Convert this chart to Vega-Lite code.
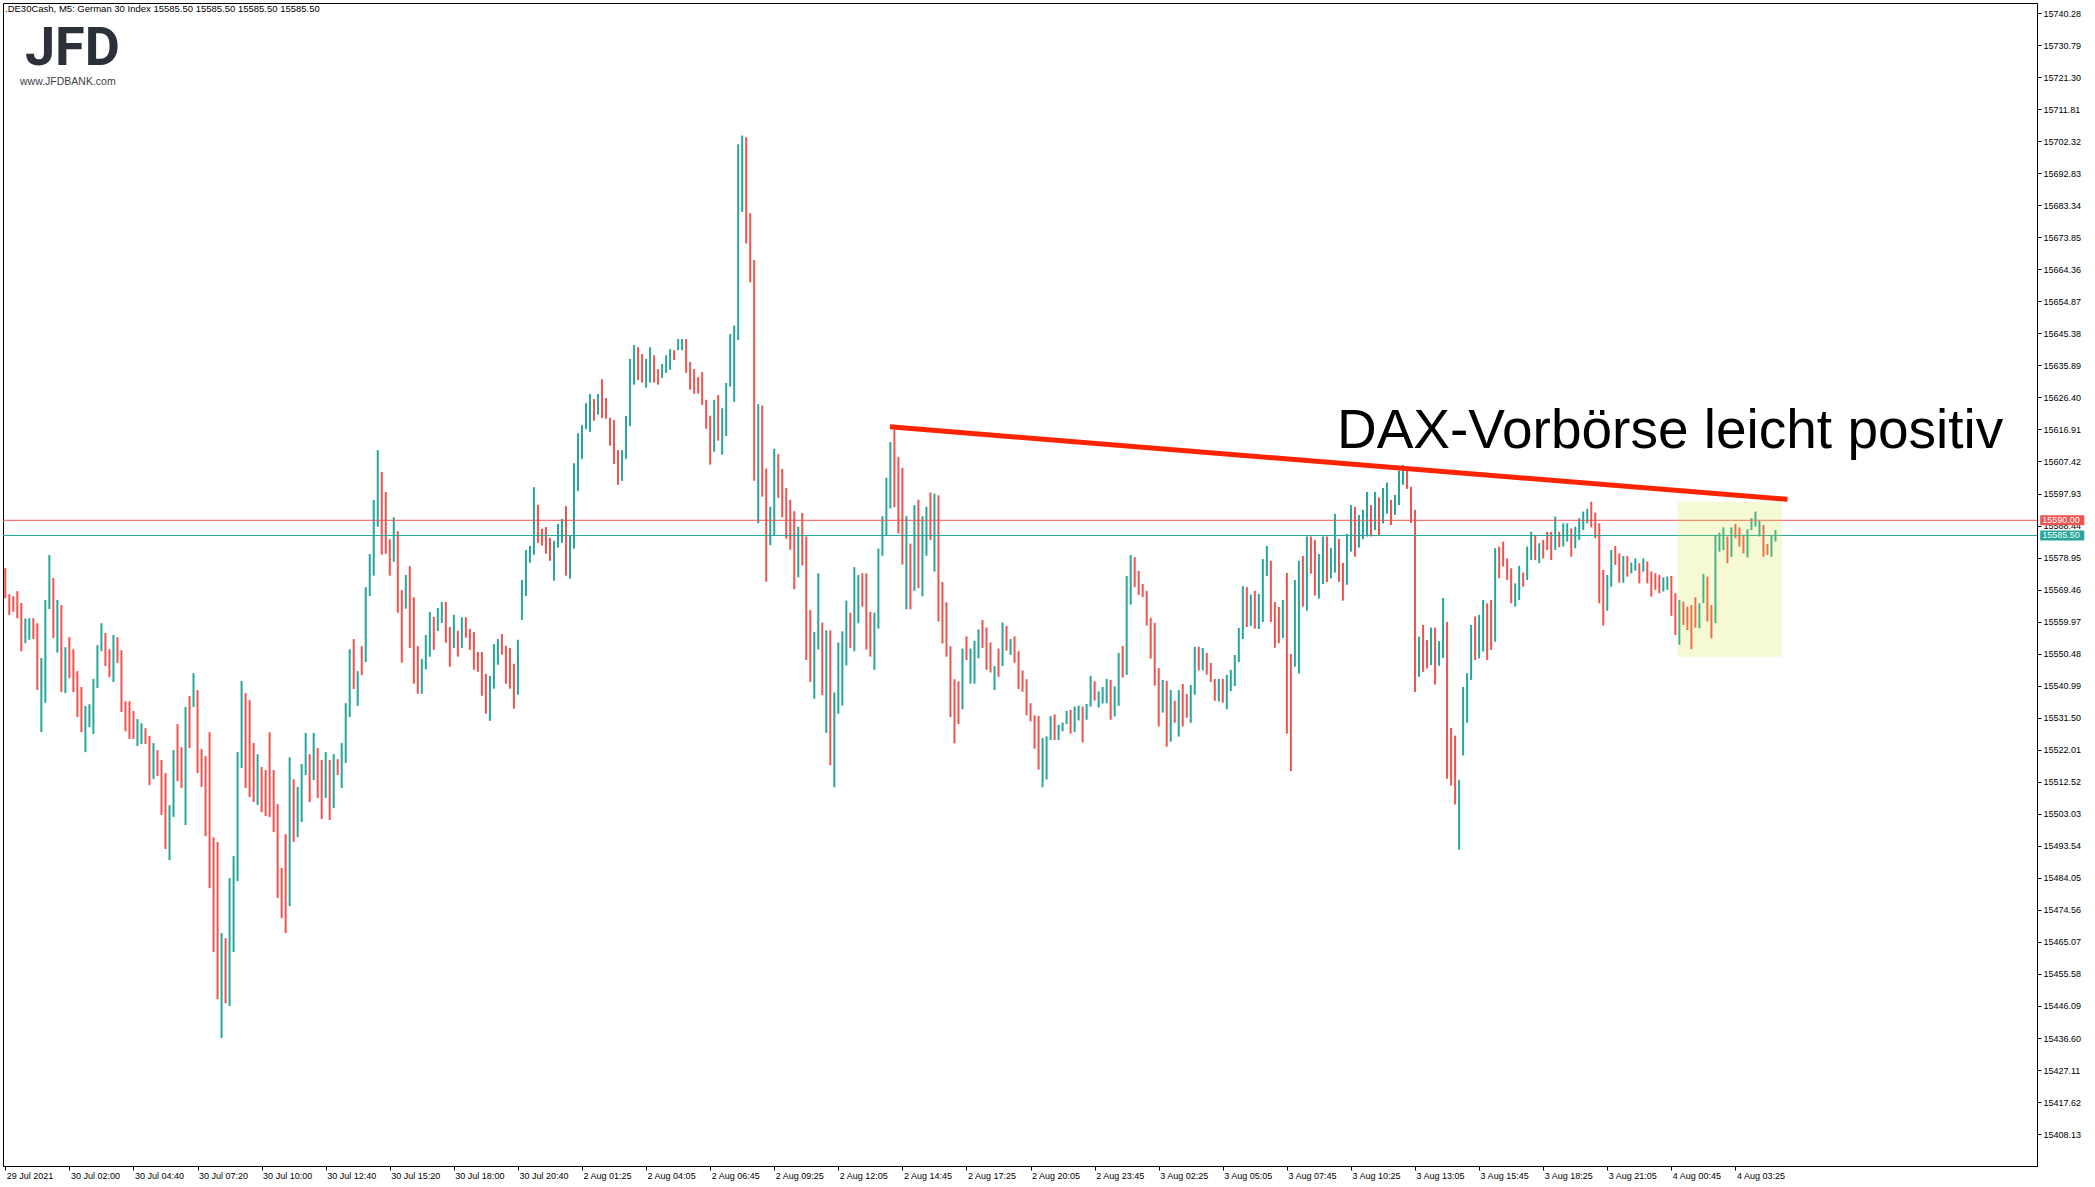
{
"$schema":"https://vega.github.io/schema/vega-lite/v6.json",
"autosize":"none","width":2034,"height":1163,
"padding":{"left":3,"top":3,"right":58,"bottom":21},
"background":"white",
"config":{"view":{"stroke":"black","strokeWidth":1},"font":"Liberation Sans",
"axis":{"labelFont":"Liberation Sans","labelFontSize":9,"labelColor":"black","tickColor":"black","domainColor":"black","grid":false,"tickWidth":1,"domainWidth":1,"labelOverlap":false}},
"datasets":{"bars":[
{"t":0,"h":15575.8,"l":15566.9,"d":"d"},{"t":1,"h":15568.1,"l":15561.9,"d":"d"},{"t":2,"h":15567.5,"l":15562.9,"d":"d"},{"t":3,"h":15569.0,"l":15561.0,"d":"d"},{"t":4,"h":15565.5,"l":15551.2,"d":"d"},{"t":5,"h":15560.9,"l":15553.6,"d":"u"},{"t":6,"h":15561.0,"l":15554.6,"d":"u"},{"t":7,"h":15561.0,"l":15554.8,"d":"d"},{"t":8,"h":15559.5,"l":15539.7,"d":"d"},{"t":9,"h":15549.2,"l":15527.3,"d":"u"},
{"t":10,"h":15566.4,"l":15535.9,"d":"u"},{"t":11,"h":15579.7,"l":15563.7,"d":"u"},{"t":12,"h":15572.9,"l":15555.1,"d":"d"},{"t":13,"h":15566.4,"l":15550.8,"d":"u"},{"t":14,"h":15564.9,"l":15539.1,"d":"d"},{"t":15,"h":15552.4,"l":15538.8,"d":"u"},{"t":16,"h":15555.4,"l":15543.2,"d":"d"},{"t":17,"h":15551.8,"l":15539.1,"d":"d"},{"t":18,"h":15545.3,"l":15531.7,"d":"d"},{"t":19,"h":15540.6,"l":15527.2,"d":"d"},
{"t":20,"h":15535.0,"l":15521.3,"d":"u"},{"t":21,"h":15535.5,"l":15528.7,"d":"u"},{"t":22,"h":15543.0,"l":15526.7,"d":"u"},{"t":23,"h":15553.0,"l":15540.3,"d":"u"},{"t":24,"h":15559.5,"l":15551.2,"d":"u"},{"t":25,"h":15556.6,"l":15546.8,"d":"d"},{"t":26,"h":15551.8,"l":15543.5,"d":"d"},{"t":27,"h":15556.0,"l":15542.1,"d":"u"},{"t":28,"h":15555.4,"l":15547.7,"d":"d"},{"t":29,"h":15551.5,"l":15533.2,"d":"d"},
{"t":30,"h":15536.4,"l":15527.5,"d":"d"},{"t":31,"h":15536.4,"l":15525.2,"d":"d"},{"t":32,"h":15533.5,"l":15525.2,"d":"d"},{"t":33,"h":15531.1,"l":15523.1,"d":"u"},{"t":34,"h":15529.9,"l":15523.7,"d":"u"},{"t":35,"h":15528.4,"l":15523.7,"d":"d"},{"t":36,"h":15526.1,"l":15511.5,"d":"d"},{"t":37,"h":15524.0,"l":15513.3,"d":"u"},{"t":38,"h":15521.9,"l":15514.2,"d":"d"},{"t":39,"h":15519.0,"l":15502.7,"d":"d"},
{"t":40,"h":15515.1,"l":15492.6,"d":"d"},{"t":41,"h":15505.6,"l":15489.3,"d":"u"},{"t":42,"h":15521.9,"l":15502.1,"d":"u"},{"t":43,"h":15529.6,"l":15512.7,"d":"d"},{"t":44,"h":15522.8,"l":15510.7,"d":"d"},{"t":45,"h":15534.7,"l":15499.7,"d":"u"},{"t":46,"h":15537.9,"l":15522.5,"d":"d"},{"t":47,"h":15544.7,"l":15534.7,"d":"u"},{"t":48,"h":15539.7,"l":15515.1,"d":"d"},{"t":49,"h":15522.2,"l":15511.0,"d":"d"},
{"t":50,"h":15520.1,"l":15496.4,"d":"d"},{"t":51,"h":15527.2,"l":15481.0,"d":"d"},{"t":52,"h":15496.1,"l":15462.1,"d":"d"},{"t":53,"h":15494.7,"l":15448.1,"d":"d"},{"t":54,"h":15467.7,"l":15436.6,"d":"u"},{"t":55,"h":15466.2,"l":15446.9,"d":"d"},{"t":56,"h":15484.0,"l":15446.1,"d":"u"},{"t":57,"h":15490.5,"l":15462.1,"d":"u"},{"t":58,"h":15521.3,"l":15483.1,"d":"u"},{"t":59,"h":15542.4,"l":15516.6,"d":"u"},
{"t":60,"h":15538.8,"l":15510.7,"d":"d"},{"t":61,"h":15536.7,"l":15508.0,"d":"d"},{"t":62,"h":15524.0,"l":15506.5,"d":"d"},{"t":63,"h":15520.7,"l":15505.6,"d":"u"},{"t":64,"h":15516.9,"l":15503.5,"d":"d"},{"t":65,"h":15516.0,"l":15502.4,"d":"d"},{"t":66,"h":15527.2,"l":15502.1,"d":"d"},{"t":67,"h":15516.0,"l":15497.6,"d":"d"},{"t":68,"h":15505.9,"l":15478.1,"d":"d"},{"t":69,"h":15487.0,"l":15472.1,"d":"d"},
{"t":70,"h":15497.0,"l":15467.7,"d":"d"},{"t":71,"h":15519.8,"l":15475.7,"d":"u"},{"t":72,"h":15513.3,"l":15494.7,"d":"d"},{"t":73,"h":15511.0,"l":15496.1,"d":"u"},{"t":74,"h":15517.8,"l":15500.6,"d":"u"},{"t":75,"h":15527.0,"l":15514.5,"d":"u"},{"t":76,"h":15520.7,"l":15506.5,"d":"d"},{"t":77,"h":15527.0,"l":15513.0,"d":"u"},{"t":78,"h":15522.5,"l":15507.7,"d":"d"},{"t":79,"h":15519.0,"l":15501.5,"d":"d"},
{"t":80,"h":15521.3,"l":15507.7,"d":"u"},{"t":81,"h":15519.0,"l":15501.2,"d":"d"},{"t":82,"h":15520.7,"l":15504.7,"d":"u"},{"t":83,"h":15519.2,"l":15514.5,"d":"d"},{"t":84,"h":15524.0,"l":15510.7,"d":"u"},{"t":85,"h":15535.8,"l":15518.1,"d":"u"},{"t":86,"h":15551.8,"l":15531.7,"d":"u"},{"t":87,"h":15554.8,"l":15540.0,"d":"d"},{"t":88,"h":15545.3,"l":15535.0,"d":"u"},{"t":89,"h":15552.7,"l":15544.1,"d":"d"},
{"t":90,"h":15570.2,"l":15548.0,"d":"u"},{"t":91,"h":15580.0,"l":15567.6,"d":"u"},{"t":92,"h":15596.0,"l":15573.6,"d":"u"},{"t":93,"h":15610.8,"l":15588.1,"d":"u"},{"t":94,"h":15604.3,"l":15579.8,"d":"d"},{"t":95,"h":15598.4,"l":15580.1,"d":"d"},{"t":96,"h":15584.4,"l":15573.6,"d":"d"},{"t":97,"h":15590.9,"l":15577.7,"d":"u"},{"t":98,"h":15586.8,"l":15562.6,"d":"d"},{"t":99,"h":15569.3,"l":15547.8,"d":"d"},
{"t":100,"h":15573.8,"l":15563.8,"d":"u"},{"t":101,"h":15576.4,"l":15552.2,"d":"d"},{"t":102,"h":15567.2,"l":15541.6,"d":"d"},{"t":103,"h":15552.7,"l":15538.6,"d":"d"},{"t":104,"h":15548.9,"l":15538.6,"d":"u"},{"t":105,"h":15556.0,"l":15545.8,"d":"u"},{"t":106,"h":15562.8,"l":15549.6,"d":"u"},{"t":107,"h":15561.4,"l":15551.6,"d":"d"},{"t":108,"h":15564.0,"l":15557.2,"d":"u"},{"t":109,"h":15565.8,"l":15559.6,"d":"u"},
{"t":110,"h":15565.8,"l":15553.7,"d":"d"},{"t":111,"h":15558.4,"l":15546.6,"d":"d"},{"t":112,"h":15562.0,"l":15552.2,"d":"u"},{"t":113,"h":15557.3,"l":15549.6,"d":"d"},{"t":114,"h":15561.3,"l":15552.2,"d":"u"},{"t":115,"h":15561.3,"l":15555.2,"d":"d"},{"t":116,"h":15557.8,"l":15551.6,"d":"d"},{"t":117,"h":15556.9,"l":15545.7,"d":"d"},{"t":118,"h":15551.0,"l":15545.1,"d":"d"},{"t":119,"h":15551.0,"l":15538.0,"d":"d"},
{"t":120,"h":15544.5,"l":15532.7,"d":"d"},{"t":121,"h":15543.9,"l":15530.6,"d":"u"},{"t":122,"h":15553.3,"l":15540.1,"d":"u"},{"t":123,"h":15554.8,"l":15547.2,"d":"u"},{"t":124,"h":15556.3,"l":15550.2,"d":"d"},{"t":125,"h":15552.8,"l":15541.6,"d":"d"},{"t":126,"h":15552.2,"l":15540.1,"d":"d"},{"t":127,"h":15547.5,"l":15534.2,"d":"d"},{"t":128,"h":15554.6,"l":15538.3,"d":"u"},{"t":129,"h":15572.3,"l":15560.5,"d":"u"},
{"t":130,"h":15581.2,"l":15567.6,"d":"u"},{"t":131,"h":15582.4,"l":15577.4,"d":"u"},{"t":132,"h":15599.8,"l":15579.8,"d":"u"},{"t":133,"h":15594.6,"l":15583.3,"d":"d"},{"t":134,"h":15587.5,"l":15582.5,"d":"d"},{"t":135,"h":15588.0,"l":15580.1,"d":"d"},{"t":136,"h":15584.8,"l":15578.0,"d":"d"},{"t":137,"h":15583.9,"l":15572.1,"d":"u"},{"t":138,"h":15588.9,"l":15581.9,"d":"u"},{"t":139,"h":15590.4,"l":15583.3,"d":"u"},
{"t":140,"h":15594.2,"l":15573.6,"d":"d"},{"t":141,"h":15585.4,"l":15572.7,"d":"u"},{"t":142,"h":15606.9,"l":15581.6,"d":"u"},{"t":143,"h":15615.8,"l":15598.7,"d":"u"},{"t":144,"h":15618.2,"l":15608.2,"d":"u"},{"t":145,"h":15624.7,"l":15617.0,"d":"u"},{"t":146,"h":15627.4,"l":15616.2,"d":"u"},{"t":147,"h":15625.9,"l":15619.5,"d":"d"},{"t":148,"h":15627.4,"l":15621.3,"d":"u"},{"t":149,"h":15631.8,"l":15620.3,"d":"d"},
{"t":150,"h":15626.2,"l":15620.1,"d":"d"},{"t":151,"h":15620.4,"l":15612.1,"d":"d"},{"t":152,"h":15619.7,"l":15606.7,"d":"d"},{"t":153,"h":15610.8,"l":15600.5,"d":"d"},{"t":154,"h":15610.8,"l":15601.7,"d":"u"},{"t":155,"h":15620.9,"l":15608.2,"d":"u"},{"t":156,"h":15637.8,"l":15617.9,"d":"u"},{"t":157,"h":15641.9,"l":15630.2,"d":"u"},{"t":158,"h":15641.3,"l":15631.6,"d":"d"},{"t":159,"h":15639.2,"l":15630.8,"d":"d"},
{"t":160,"h":15637.8,"l":15629.3,"d":"u"},{"t":161,"h":15641.3,"l":15630.8,"d":"u"},{"t":162,"h":15638.9,"l":15630.8,"d":"d"},{"t":163,"h":15634.8,"l":15630.2,"d":"d"},{"t":164,"h":15636.3,"l":15632.2,"d":"u"},{"t":165,"h":15638.9,"l":15633.7,"d":"u"},{"t":166,"h":15640.7,"l":15634.6,"d":"u"},{"t":167,"h":15640.4,"l":15637.5,"d":"d"},{"t":168,"h":15643.7,"l":15640.4,"d":"u"},{"t":169,"h":15643.7,"l":15640.4,"d":"u"},
{"t":170,"h":15643.7,"l":15633.7,"d":"d"},{"t":171,"h":15636.9,"l":15628.7,"d":"d"},{"t":172,"h":15634.8,"l":15627.5,"d":"d"},{"t":173,"h":15632.4,"l":15627.5,"d":"d"},{"t":174,"h":15633.9,"l":15624.2,"d":"d"},{"t":175,"h":15625.7,"l":15617.1,"d":"d"},{"t":176,"h":15621.0,"l":15606.5,"d":"d"},{"t":177,"h":15625.7,"l":15610.3,"d":"u"},{"t":178,"h":15627.1,"l":15613.6,"d":"d"},{"t":179,"h":15623.2,"l":15609.4,"d":"u"},
{"t":180,"h":15630.7,"l":15615.0,"d":"u"},{"t":181,"h":15645.2,"l":15629.6,"d":"u"},{"t":182,"h":15647.7,"l":15625.1,"d":"u"},{"t":183,"h":15701.4,"l":15643.4,"d":"u"},{"t":184,"h":15704.0,"l":15681.4,"d":"u"},{"t":185,"h":15703.5,"l":15672.0,"d":"d"},{"t":186,"h":15681.0,"l":15660.5,"d":"d"},{"t":187,"h":15667.1,"l":15601.7,"d":"d"},{"t":188,"h":15624.4,"l":15589.1,"d":"u"},{"t":189,"h":15624.0,"l":15597.0,"d":"d"},
{"t":190,"h":15605.3,"l":15571.8,"d":"d"},{"t":191,"h":15594.0,"l":15582.6,"d":"u"},{"t":192,"h":15611.2,"l":15585.5,"d":"u"},{"t":193,"h":15609.6,"l":15596.6,"d":"d"},{"t":194,"h":15605.2,"l":15590.9,"d":"d"},{"t":195,"h":15599.6,"l":15584.5,"d":"d"},{"t":196,"h":15596.1,"l":15581.3,"d":"d"},{"t":197,"h":15592.7,"l":15569.6,"d":"d"},{"t":198,"h":15588.1,"l":15573.1,"d":"u"},{"t":199,"h":15592.2,"l":15576.6,"d":"d"},
{"t":200,"h":15585.2,"l":15548.6,"d":"d"},{"t":201,"h":15563.4,"l":15542.1,"d":"d"},{"t":202,"h":15556.9,"l":15537.1,"d":"u"},{"t":203,"h":15574.3,"l":15551.7,"d":"u"},{"t":204,"h":15559.7,"l":15538.2,"d":"d"},{"t":205,"h":15557.4,"l":15527.0,"d":"u"},{"t":206,"h":15557.4,"l":15517.4,"d":"d"},{"t":207,"h":15539.0,"l":15510.9,"d":"u"},{"t":208,"h":15553.8,"l":15532.7,"d":"u"},{"t":209,"h":15557.1,"l":15535.1,"d":"u"},
{"t":210,"h":15566.2,"l":15547.0,"d":"u"},{"t":211,"h":15562.6,"l":15552.2,"d":"d"},{"t":212,"h":15576.1,"l":15551.2,"d":"u"},{"t":213,"h":15573.8,"l":15559.5,"d":"u"},{"t":214,"h":15574.3,"l":15564.4,"d":"d"},{"t":215,"h":15574.3,"l":15551.7,"d":"d"},{"t":216,"h":15562.9,"l":15549.6,"d":"d"},{"t":217,"h":15562.6,"l":15545.7,"d":"u"},{"t":218,"h":15581.6,"l":15557.9,"d":"u"},{"t":219,"h":15591.2,"l":15579.5,"d":"u"},
{"t":220,"h":15602.6,"l":15585.5,"d":"u"},{"t":221,"h":15613.2,"l":15593.5,"d":"u"},{"t":222,"h":15616.9,"l":15593.9,"d":"d"},{"t":223,"h":15608.8,"l":15586.1,"d":"d"},{"t":224,"h":15605.5,"l":15576.9,"d":"d"},{"t":225,"h":15591.2,"l":15563.6,"d":"u"},{"t":226,"h":15583.1,"l":15563.6,"d":"d"},{"t":227,"h":15594.5,"l":15569.1,"d":"u"},{"t":228,"h":15596.1,"l":15569.9,"d":"d"},{"t":229,"h":15591.2,"l":15567.5,"d":"u"},
{"t":230,"h":15594.0,"l":15579.5,"d":"u"},{"t":231,"h":15598.2,"l":15584.2,"d":"d"},{"t":232,"h":15597.9,"l":15574.8,"d":"u"},{"t":233,"h":15597.4,"l":15560.0,"d":"d"},{"t":234,"h":15571.7,"l":15553.5,"d":"d"},{"t":235,"h":15565.7,"l":15549.6,"d":"d"},{"t":236,"h":15552.7,"l":15531.7,"d":"d"},{"t":237,"h":15542.9,"l":15523.9,"d":"d"},{"t":238,"h":15542.3,"l":15529.6,"d":"d"},{"t":239,"h":15552.0,"l":15534.0,"d":"u"},
{"t":240,"h":15555.6,"l":15548.6,"d":"d"},{"t":241,"h":15552.0,"l":15541.6,"d":"u"},{"t":242,"h":15554.3,"l":15541.6,"d":"u"},{"t":243,"h":15557.7,"l":15549.1,"d":"u"},{"t":244,"h":15560.5,"l":15552.2,"d":"d"},{"t":245,"h":15558.2,"l":15545.7,"d":"d"},{"t":246,"h":15553.8,"l":15544.9,"d":"d"},{"t":247,"h":15546.8,"l":15539.7,"d":"u"},{"t":248,"h":15552.0,"l":15543.6,"d":"d"},{"t":249,"h":15559.7,"l":15546.8,"d":"u"},
{"t":250,"h":15558.7,"l":15551.4,"d":"d"},{"t":251,"h":15554.8,"l":15550.1,"d":"u"},{"t":252,"h":15555.6,"l":15547.8,"d":"d"},{"t":253,"h":15551.2,"l":15540.0,"d":"d"},{"t":254,"h":15545.5,"l":15539.2,"d":"d"},{"t":255,"h":15542.9,"l":15532.2,"d":"d"},{"t":256,"h":15535.8,"l":15530.4,"d":"d"},{"t":257,"h":15532.2,"l":15522.3,"d":"d"},{"t":258,"h":15532.0,"l":15516.1,"d":"d"},{"t":259,"h":15525.5,"l":15510.9,"d":"u"},
{"t":260,"h":15526.0,"l":15513.2,"d":"u"},{"t":261,"h":15532.0,"l":15524.9,"d":"u"},{"t":262,"h":15532.5,"l":15524.9,"d":"d"},{"t":263,"h":15529.4,"l":15524.9,"d":"u"},{"t":264,"h":15530.1,"l":15527.5,"d":"u"},{"t":265,"h":15533.5,"l":15529.6,"d":"u"},{"t":266,"h":15533.8,"l":15526.8,"d":"d"},{"t":267,"h":15534.8,"l":15527.3,"d":"u"},{"t":268,"h":15535.1,"l":15530.7,"d":"u"},{"t":269,"h":15534.8,"l":15524.2,"d":"d"},
{"t":270,"h":15535.6,"l":15530.9,"d":"u"},{"t":271,"h":15543.9,"l":15534.8,"d":"u"},{"t":272,"h":15542.3,"l":15536.6,"d":"d"},{"t":273,"h":15539.3,"l":15534.5,"d":"u"},{"t":274,"h":15540.6,"l":15535.7,"d":"u"},{"t":275,"h":15543.0,"l":15535.8,"d":"u"},{"t":276,"h":15542.7,"l":15530.9,"d":"d"},{"t":277,"h":15540.8,"l":15531.9,"d":"u"},{"t":278,"h":15550.7,"l":15535.0,"d":"u"},{"t":279,"h":15552.8,"l":15543.4,"d":"d"},
{"t":280,"h":15573.5,"l":15544.2,"d":"u"},{"t":281,"h":15579.7,"l":15565.0,"d":"u"},{"t":282,"h":15579.1,"l":15570.2,"d":"d"},{"t":283,"h":15575.0,"l":15567.9,"d":"d"},{"t":284,"h":15571.1,"l":15567.3,"d":"d"},{"t":285,"h":15569.1,"l":15558.8,"d":"d"},{"t":286,"h":15561.1,"l":15549.0,"d":"d"},{"t":287,"h":15559.6,"l":15541.0,"d":"d"},{"t":288,"h":15546.2,"l":15528.9,"d":"d"},{"t":289,"h":15542.7,"l":15533.0,"d":"u"},
{"t":290,"h":15542.4,"l":15522.9,"d":"d"},{"t":291,"h":15539.7,"l":15524.4,"d":"u"},{"t":292,"h":15536.5,"l":15530.0,"d":"d"},{"t":293,"h":15539.7,"l":15525.9,"d":"u"},{"t":294,"h":15541.5,"l":15528.9,"d":"d"},{"t":295,"h":15538.5,"l":15531.5,"d":"d"},{"t":296,"h":15541.2,"l":15530.0,"d":"u"},{"t":297,"h":15552.5,"l":15538.3,"d":"u"},{"t":298,"h":15552.5,"l":15545.5,"d":"d"},{"t":299,"h":15552.2,"l":15545.5,"d":"u"},
{"t":300,"h":15550.7,"l":15544.3,"d":"d"},{"t":301,"h":15547.7,"l":15542.1,"d":"d"},{"t":302,"h":15543.0,"l":15536.5,"d":"d"},{"t":303,"h":15543.0,"l":15536.3,"d":"u"},{"t":304,"h":15543.0,"l":15536.0,"d":"d"},{"t":305,"h":15544.2,"l":15534.0,"d":"u"},{"t":306,"h":15545.7,"l":15539.4,"d":"u"},{"t":307,"h":15550.1,"l":15540.9,"d":"u"},{"t":308,"h":15558.1,"l":15548.0,"d":"u"},{"t":309,"h":15570.5,"l":15554.8,"d":"u"},
{"t":310,"h":15570.2,"l":15558.4,"d":"d"},{"t":311,"h":15568.0,"l":15558.7,"d":"u"},{"t":312,"h":15569.1,"l":15557.9,"d":"d"},{"t":313,"h":15568.2,"l":15557.8,"d":"u"},{"t":314,"h":15578.5,"l":15559.9,"d":"u"},{"t":315,"h":15582.4,"l":15573.5,"d":"u"},{"t":316,"h":15578.0,"l":15559.9,"d":"d"},{"t":317,"h":15565.8,"l":15552.2,"d":"d"},{"t":318,"h":15564.3,"l":15553.6,"d":"d"},{"t":319,"h":15566.4,"l":15555.1,"d":"u"},
{"t":320,"h":15574.4,"l":15526.8,"d":"d"},{"t":321,"h":15550.4,"l":15515.7,"d":"d"},{"t":322,"h":15572.3,"l":15546.6,"d":"u"},{"t":323,"h":15578.0,"l":15544.6,"d":"u"},{"t":324,"h":15579.4,"l":15564.4,"d":"d"},{"t":325,"h":15585.2,"l":15563.2,"d":"u"},{"t":326,"h":15585.2,"l":15574.2,"d":"d"},{"t":327,"h":15584.2,"l":15567.7,"d":"d"},{"t":328,"h":15580.0,"l":15566.8,"d":"u"},{"t":329,"h":15585.2,"l":15571.1,"d":"u"},
{"t":330,"h":15585.2,"l":15571.7,"d":"d"},{"t":331,"h":15581.8,"l":15572.8,"d":"u"},{"t":332,"h":15591.9,"l":15574.5,"d":"u"},{"t":333,"h":15584.5,"l":15571.8,"d":"d"},{"t":334,"h":15577.4,"l":15566.2,"d":"d"},{"t":335,"h":15586.0,"l":15570.9,"d":"u"},{"t":336,"h":15594.5,"l":15580.7,"d":"u"},{"t":337,"h":15594.0,"l":15579.2,"d":"d"},{"t":338,"h":15591.6,"l":15581.9,"d":"u"},{"t":339,"h":15593.1,"l":15584.4,"d":"u"},
{"t":340,"h":15598.4,"l":15585.2,"d":"u"},{"t":341,"h":15594.5,"l":15585.2,"d":"d"},{"t":342,"h":15598.4,"l":15587.1,"d":"u"},{"t":343,"h":15596.8,"l":15585.3,"d":"d"},{"t":344,"h":15599.6,"l":15589.1,"d":"u"},{"t":345,"h":15601.2,"l":15592.0,"d":"u"},{"t":346,"h":15596.0,"l":15588.6,"d":"d"},{"t":347,"h":15597.5,"l":15591.6,"d":"u"},{"t":348,"h":15604.7,"l":15594.5,"d":"u"},{"t":349,"h":15606.4,"l":15600.5,"d":"u"},
{"t":350,"h":15604.9,"l":15599.3,"d":"d"},{"t":351,"h":15599.9,"l":15589.2,"d":"d"},{"t":352,"h":15593.1,"l":15539.1,"d":"d"},{"t":353,"h":15555.5,"l":15543.6,"d":"u"},{"t":354,"h":15559.0,"l":15545.1,"d":"d"},{"t":355,"h":15554.5,"l":15546.1,"d":"d"},{"t":356,"h":15558.2,"l":15547.1,"d":"u"},{"t":357,"h":15558.2,"l":15541.3,"d":"d"},{"t":358,"h":15554.2,"l":15546.9,"d":"u"},{"t":359,"h":15567.0,"l":15549.2,"d":"u"},
{"t":360,"h":15559.9,"l":15513.4,"d":"d"},{"t":361,"h":15528.5,"l":15511.4,"d":"d"},{"t":362,"h":15526.2,"l":15505.8,"d":"d"},{"t":363,"h":15513.1,"l":15492.4,"d":"u"},{"t":364,"h":15540.6,"l":15520.3,"d":"u"},{"t":365,"h":15544.7,"l":15530.0,"d":"u"},{"t":366,"h":15559.0,"l":15542.7,"d":"u"},{"t":367,"h":15561.5,"l":15548.6,"d":"d"},{"t":368,"h":15562.0,"l":15549.1,"d":"u"},{"t":369,"h":15566.4,"l":15551.1,"d":"u"},
{"t":370,"h":15565.4,"l":15548.6,"d":"d"},{"t":371,"h":15566.4,"l":15551.6,"d":"d"},{"t":372,"h":15581.7,"l":15554.0,"d":"u"},{"t":373,"h":15582.2,"l":15572.8,"d":"d"},{"t":374,"h":15583.7,"l":15576.3,"d":"d"},{"t":375,"h":15578.7,"l":15572.3,"d":"d"},{"t":376,"h":15575.8,"l":15565.4,"d":"d"},{"t":377,"h":15571.3,"l":15564.4,"d":"u"},{"t":378,"h":15576.5,"l":15566.4,"d":"u"},{"t":379,"h":15574.5,"l":15570.3,"d":"d"},
{"t":380,"h":15582.2,"l":15572.3,"d":"u"},{"t":381,"h":15586.6,"l":15578.2,"d":"u"},{"t":382,"h":15585.7,"l":15578.2,"d":"d"},{"t":383,"h":15583.2,"l":15577.3,"d":"u"},{"t":384,"h":15584.2,"l":15578.7,"d":"d"},{"t":385,"h":15586.6,"l":15581.2,"d":"d"},{"t":386,"h":15586.6,"l":15578.2,"d":"d"},{"t":387,"h":15591.1,"l":15581.2,"d":"u"},{"t":388,"h":15586.6,"l":15582.0,"d":"d"},{"t":389,"h":15589.1,"l":15582.2,"d":"u"},
{"t":390,"h":15589.1,"l":15583.7,"d":"u"},{"t":391,"h":15587.6,"l":15579.2,"d":"d"},{"t":392,"h":15588.1,"l":15581.7,"d":"u"},{"t":393,"h":15590.6,"l":15584.2,"d":"u"},{"t":394,"h":15592.6,"l":15587.1,"d":"u"},{"t":395,"h":15593.4,"l":15589.1,"d":"u"},{"t":396,"h":15595.5,"l":15587.9,"d":"d"},{"t":397,"h":15592.3,"l":15584.7,"d":"d"},{"t":398,"h":15589.1,"l":15565.4,"d":"d"},{"t":399,"h":15575.3,"l":15558.8,"d":"d"},
{"t":400,"h":15573.8,"l":15563.2,"d":"u"},{"t":401,"h":15581.2,"l":15570.3,"d":"u"},{"t":402,"h":15582.4,"l":15576.8,"d":"d"},{"t":403,"h":15580.2,"l":15571.5,"d":"d"},{"t":404,"h":15579.4,"l":15571.5,"d":"u"},{"t":405,"h":15579.4,"l":15573.3,"d":"d"},{"t":406,"h":15577.5,"l":15574.3,"d":"u"},{"t":407,"h":15578.7,"l":15575.1,"d":"u"},{"t":408,"h":15577.3,"l":15571.3,"d":"d"},{"t":409,"h":15578.7,"l":15574.8,"d":"u"},
{"t":410,"h":15577.8,"l":15571.3,"d":"d"},{"t":411,"h":15574.8,"l":15567.4,"d":"d"},{"t":412,"h":15574.3,"l":15569.4,"d":"d"},{"t":413,"h":15573.8,"l":15568.4,"d":"d"},{"t":414,"h":15573.1,"l":15568.9,"d":"u"},{"t":415,"h":15573.3,"l":15569.4,"d":"u"},{"t":416,"h":15573.5,"l":15561.7,"d":"d"},{"t":417,"h":15568.4,"l":15556.0,"d":"d"},{"t":418,"h":15566.4,"l":15553.1,"d":"u"},{"t":419,"h":15565.9,"l":15559.0,"d":"d"},
{"t":420,"h":15564.4,"l":15557.5,"d":"d"},{"t":421,"h":15564.9,"l":15551.8,"d":"d"},{"t":422,"h":15567.2,"l":15558.2,"d":"d"},{"t":423,"h":15565.4,"l":15558.0,"d":"u"},{"t":424,"h":15574.1,"l":15565.4,"d":"u"},{"t":425,"h":15573.3,"l":15560.0,"d":"d"},{"t":426,"h":15564.9,"l":15555.0,"d":"d"},{"t":427,"h":15585.7,"l":15559.5,"d":"u"},{"t":428,"h":15586.3,"l":15580.7,"d":"u"},{"t":429,"h":15587.9,"l":15581.2,"d":"u"},
{"t":430,"h":15585.2,"l":15577.3,"d":"d"},{"t":431,"h":15587.9,"l":15579.2,"d":"u"},{"t":432,"h":15588.9,"l":15584.7,"d":"d"},{"t":433,"h":15587.9,"l":15582.2,"d":"d"},{"t":434,"h":15585.7,"l":15580.2,"d":"d"},{"t":435,"h":15587.3,"l":15579.0,"d":"u"},{"t":436,"h":15590.6,"l":15587.1,"d":"u"},{"t":437,"h":15592.6,"l":15588.1,"d":"u"},{"t":438,"h":15589.8,"l":15585.2,"d":"u"},{"t":439,"h":15588.6,"l":15579.2,"d":"d"},
{"t":440,"h":15583.0,"l":15579.7,"d":"d"},{"t":441,"h":15585.4,"l":15579.2,"d":"u"},{"t":442,"h":15587.1,"l":15583.7,"d":"u"}
],
"levels":[{"p":15590.0,"d":"d"},{"p":15585.5,"d":"u"}]},
"layer":[
{"data":{"name":"bars"},"mark":{"type":"rule","strokeWidth":2},
 "encoding":{
  "x":{"field":"t","type":"quantitative","scale":{"domain":[-0.574,507.3],"nice":false,"zero":false},
   "axis":{"orient":"bottom","title":null,"values":[0,16,32,48,64,80,96,112,128,144,160,176,192,208,224,240,256,272,288,304,320,336,352,368,384,400,416,432],
    "labelExpr":"['29 Jul 2021','30 Jul 02:00','30 Jul 04:40','30 Jul 07:20','30 Jul 10:00','30 Jul 12:40','30 Jul 15:20','30 Jul 18:00','30 Jul 20:40','2 Aug 01:25','2 Aug 04:05','2 Aug 06:45','2 Aug 09:25','2 Aug 12:05','2 Aug 14:45','2 Aug 17:25','2 Aug 20:05','2 Aug 23:45','3 Aug 02:25','3 Aug 05:05','3 Aug 07:45','3 Aug 10:25','3 Aug 13:05','3 Aug 15:45','3 Aug 18:25','3 Aug 21:05','4 Aug 00:45','4 Aug 03:25'][round(datum.value/16)]",
    "labelAlign":"left","labelBaseline":"top","labelOffset":1,"tickSize":4,"labelPadding":1,"labelOverlap":false,"labelFlush":false,"labelBound":false}},
  "y":{"field":"l","type":"quantitative","scale":{"domain":[15398.68,15743.27],"nice":false,"zero":false},
   "axis":{"orient":"right","title":null,"tickCount":40,"values":[15408.13,15417.62,15427.11,15436.6,15446.09,15455.58,15465.07,15474.56,15484.05,15493.54,15503.03,15512.52,15522.01,15531.5,15540.99,15550.48,15559.97,15569.46,15578.95,15588.44,15597.93,15607.42,15616.91,15626.4,15635.89,15645.38,15654.87,15664.36,15673.85,15683.34,15692.83,15702.32,15711.81,15721.3,15730.79,15740.28],
    "labelExpr":"format(datum.value, '.2f')","tickSize":4,"labelPadding":2,"labelOverlap":false,"labelFlush":false,"labelBound":false}},
  "y2":{"field":"h"},
  "color":{"field":"d","type":"nominal","scale":{"domain":["u","d"],"range":["#26a69a","#ef5350"]},"legend":null}}},
{"data":{"name":"levels"},"mark":{"type":"rule","strokeWidth":1},
 "encoding":{"y":{"field":"p","type":"quantitative"},"color":{"field":"d","type":"nominal","legend":null}}},
{"data":{"name":"levels"},"mark":{"type":"rule","strokeWidth":10,"strokeCap":"butt"},
 "encoding":{"x":{"datum":508.1},"x2":{"datum":519.1},"y":{"field":"p","type":"quantitative"},"color":{"field":"d","type":"nominal","legend":null}}},
{"data":{"name":"levels"},"mark":{"type":"text","align":"left","baseline":"middle","color":"white","fontSize":9,"font":"Liberation Sans"},
 "encoding":{"x":{"datum":508.6},"y":{"field":"p","type":"quantitative"},"text":{"field":"p","type":"quantitative","format":".2f"}}},
{"data":{"values":[{}]},"mark":{"type":"rect","fill":"#d2e840","opacity":0.22},
 "encoding":{"x":{"datum":417.6},"x2":{"datum":443.6},"y":{"datum":15549.6},"y2":{"datum":15595.5}}},
{"data":{"values":[{}]},"mark":{"type":"rule","stroke":"#ff2400","strokeWidth":5},
 "encoding":{"x":{"datum":220.9},"y":{"datum":15617.7},"x2":{"datum":445.0},"y2":{"datum":15596.2}}},
{"data":{"values":[{}]},"mark":{"type":"text","text":"DAX-Vorbörse leicht positiv","font":"Liberation Sans","fontSize":55,"align":"left","baseline":"alphabetic","color":"black"},
 "encoding":{"x":{"datum":332.5},"y":{"datum":15611.5}}},
{"data":{"values":[{}]},"mark":{"type":"text","text":"JFD","font":"Roboto","fontWeight":"bold","fontSize":54,"align":"left","baseline":"alphabetic","color":"#2b3039","letterSpacing":1},
 "encoding":{"x":{"datum":4.9},"y":{"datum":15724.9}}},
{"data":{"values":[{}]},"mark":{"type":"text","text":"www.JFDBANK.com","font":"Liberation Sans","fontSize":10.5,"align":"left","baseline":"middle","color":"#3b4048"},
 "encoding":{"x":{"datum":3.67},"y":{"datum":15719.9}}},
{"data":{"values":[{}]},"mark":{"type":"text","text":".DE30Cash, M5:  German 30 Index  15585.50 15585.50 15585.50 15585.50","font":"Liberation Sans","fontSize":9.5,"align":"left","baseline":"middle","color":"black"},
 "encoding":{"x":{"datum":-0.07},"y":{"datum":15741.5}}}
]
}
